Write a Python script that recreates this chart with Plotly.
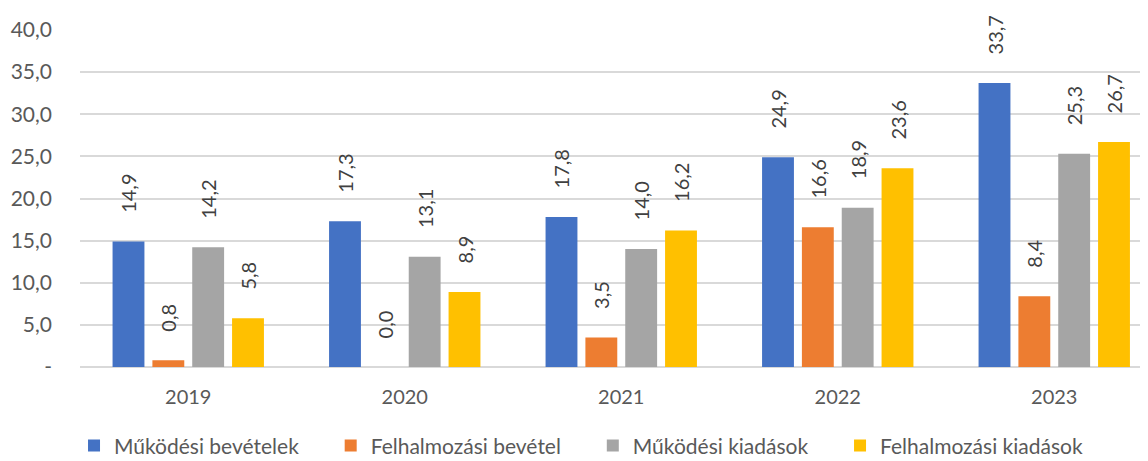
import plotly.graph_objects as go

years = ["2019", "2020", "2021", "2022", "2023"]
series_names = ["Működési bevételek", "Felhalmozási bevétel", "Működési kiadások", "Felhalmozási kiadások"]
mukodesi_bevetelek = [14.9, 17.3, 17.8, 24.9, 33.7]
felhalmozasi_bevetel = [0.8, 0.0, 3.5, 16.6, 8.4]
mukodesi_kiadasok = [14.2, 13.1, 14.0, 18.9, 25.3]
felhalmozasi_kiadasok = [5.8, 8.9, 16.2, 23.6, 26.7]
colors = ["#4472C4", "#ED7D31", "#A5A5A5", "#FFC000"]
tick_vals = [0, 5, 10, 15, 20, 25, 30, 35, 40]
tick_text = ["-", "5,0", "10,0", "15,0", "20,0", "25,0", "30,0", "35,0", "40,0"]

FONT = "Lato, Carlito, Calibri, sans-serif"
pad = "\u00a0" * 5
legend_pad = "\u00a0" * 5

series_values = [mukodesi_bevetelek, felhalmozasi_bevetel, mukodesi_kiadasok, felhalmozasi_kiadasok]

fig = go.Figure()
for i, (name, vals, col) in enumerate(zip(series_names, series_values, colors)):
    shown_name = name + (legend_pad if i < len(series_names) - 1 else "")
    fig.add_trace(go.Bar(
        x=years, y=vals, name=shown_name, marker_color=col, marker_line_width=0,
        text=[pad + f"{v:.1f}".replace(".", ",") for v in vals],
        textposition="outside", textangle=-90, cliponaxis=False,
        constraintext="none",
        textfont=dict(family=FONT, size=20, color="#404040"),
    ))

# page body adds an 8px offset; figure is sized to fill the rest of the window
fig.update_layout(
    width=1140, height=453,
    margin=dict(l=72, r=0, t=22, b=94, autoexpand=False),
    paper_bgcolor="white", plot_bgcolor="white",
    barmode="group", bargap=0.264, bargroupgap=0.2,
    font=dict(family=FONT, color="#595959", size=20),
    showlegend=True,
    legend=dict(orientation="h", x=-0.0056, xanchor="left", y=-0.234, yanchor="middle",
                font=dict(family=FONT, size=21, color="#595959"), itemsizing="constant"),
)
fig.update_xaxes(range=[-0.5, 4.433], showgrid=False, showline=False, ticks="",
                 automargin=False, ticklabelstandoff=16,
                 tickfont=dict(family=FONT, size=20, color="#595959"))
fig.update_yaxes(range=[0, 40], tickvals=tick_vals, ticktext=tick_text,
                 showgrid=True, gridcolor="#D9D9D9", gridwidth=1.5,
                 zeroline=True, zerolinecolor="#D9D9D9", zerolinewidth=1.5,
                 showline=False, ticks="", ticklabelstandoff=27, automargin=False,
                 tickfont=dict(family=FONT, size=21, color="#595959"))

fig.write_html("out.html")
